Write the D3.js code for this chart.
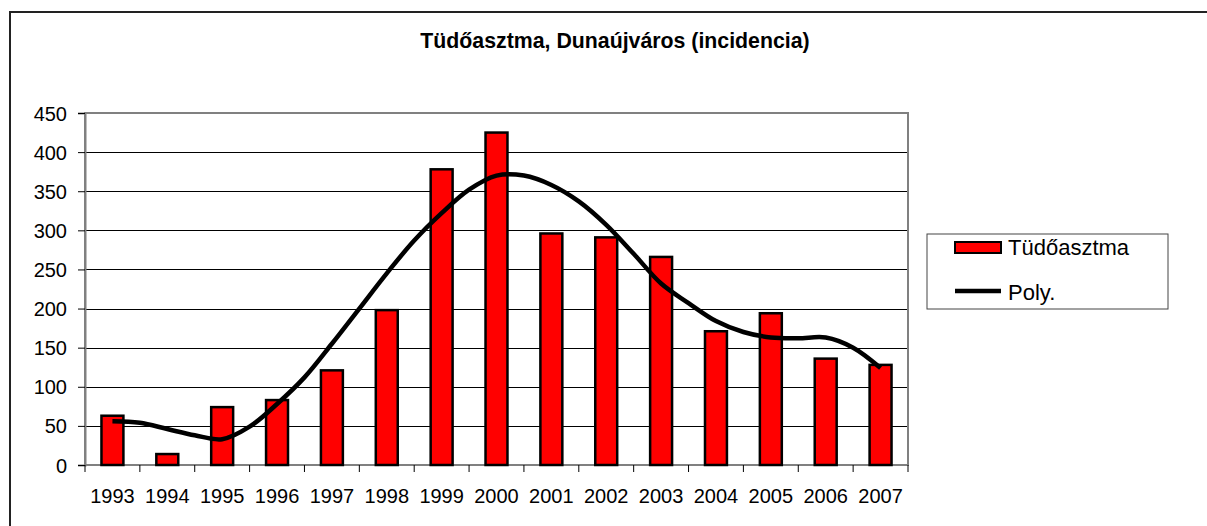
<!DOCTYPE html>
<html>
<head>
<meta charset="utf-8">
<script src="https://cdn.jsdelivr.net/npm/d3@7"></script>
<style>
  body { margin: 0; background: #fff; }
  text { font-family: Arial, "Liberation Sans", sans-serif; fill: #000; }
</style>
</head>
<body>
<svg id="chart" width="1207" height="526"></svg>
<script>
// bar data
const years = [1993, 1994, 1995, 1996, 1997, 1998, 1999, 2000, 2001, 2002, 2003, 2004, 2005, 2006, 2007];
const asthma = [63, 14, 74, 83, 121, 198, 378, 425, 296, 291, 266, 171, 194, 136, 128];

// trend line ("Poly.") at half-year steps
const polyYears = [1993, 1993.5, 1994, 1994.5, 1995, 1995.5, 1996, 1996.5, 1997, 1997.5, 1998, 1998.5, 1999, 1999.5,
    2000, 2000.5, 2001, 2001.5, 2002, 2002.5, 2003, 2003.5, 2004, 2004.5, 2005, 2005.5, 2006, 2006.5, 2007];
const polyValues = [56, 54, 46, 38, 33, 49, 78, 112, 155, 200, 245, 287, 322, 352,
    370, 370, 358, 337, 307, 270, 232, 207, 184, 170, 163, 162, 163, 150, 124];

const yTicks = [0, 50, 100, 150, 200, 250, 300, 350, 400, 450];

const title = "Tüdőasztma, Dunaújváros (incidencia)";
const legendItems = ["Tüdőasztma", "Poly."];

const svg = d3.select("#chart");
const margin = { top: 113, right: 299, bottom: 61, left: 85 };
const width = 1207, height = 526;

const x = d3.scaleBand()
    .domain(years)
    .range([margin.left, width - margin.right])
    .paddingInner(0.6)
    .paddingOuter(0.3);

const y = d3.scaleLinear()
    .domain([0, 450])
    .range([height - margin.bottom, margin.top]);

const xLin = d3.scaleLinear()
    .domain([years[0], years[years.length - 1]])
    .range([x(years[0]) + x.bandwidth() / 2, x(years[years.length - 1]) + x.bandwidth() / 2]);

// outer chart frame (only top and left visible)
svg.append("path")
    .attr("d", "M10,526 V12 H1207")
    .attr("fill", "none")
    .attr("stroke", "#222")
    .attr("stroke-width", 2);

// title
svg.append("text")
    .attr("x", 615)
    .attr("y", 48)
    .attr("text-anchor", "middle")
    .attr("font-size", 21.3)
    .attr("font-weight", "bold")
    .text(title);

// gridlines
svg.append("g")
    .selectAll("line")
    .data(yTicks.filter(d => d > 0 && d < 450))
    .enter().append("line")
    .attr("x1", margin.left)
    .attr("x2", width - margin.right)
    .attr("y1", d => Math.round(y(d)) + 0.5)
    .attr("y2", d => Math.round(y(d)) + 0.5)
    .attr("stroke", "#000")
    .attr("stroke-width", 1);

// plot area frame
svg.append("rect")
    .attr("x", margin.left)
    .attr("y", margin.top)
    .attr("width", width - margin.right - margin.left)
    .attr("height", y(0) - margin.top)
    .attr("fill", "none")
    .attr("stroke", "#808080")
    .attr("stroke-width", 2);

// y axis
const yAxis = svg.append("g")
    .attr("transform", `translate(${margin.left},0)`)
    .call(d3.axisLeft(y).tickValues(yTicks).tickSize(7).tickPadding(11));
yAxis.select(".domain").attr("stroke", "#808080").attr("stroke-width", 2);
yAxis.selectAll(".tick line").attr("stroke", "#000");
yAxis.selectAll(".tick text")
    .attr("font-size", 20)
    .attr("font-family", "Arial, 'Liberation Sans', sans-serif")
    .attr("dy", "0.35em");

// x axis: ticks on band boundaries
const xAxis = svg.append("g")
    .attr("transform", `translate(0,${y(0)})`);
xAxis.append("line")
    .attr("x1", margin.left).attr("x2", width - margin.right)
    .attr("stroke", "#808080").attr("stroke-width", 2);
const step = x.step();
const bounds = d3.range(years.length + 1).map(i => margin.left + i * step);
xAxis.selectAll(".xtick")
    .data(bounds)
    .enter().append("line")
    .attr("class", "xtick")
    .attr("x1", d => d).attr("x2", d => d)
    .attr("y1", 0).attr("y2", 7)
    .attr("stroke", "#000");
xAxis.selectAll(".xlab")
    .data(years)
    .enter().append("text")
    .attr("class", "xlab")
    .attr("x", d => x(d) + x.bandwidth() / 2)
    .attr("y", 38)
    .attr("text-anchor", "middle")
    .attr("font-size", 20)
    .text(d => d);

// bars
svg.append("g")
    .selectAll("rect")
    .data(asthma)
    .enter().append("rect")
    .attr("x", (d, i) => x(years[i]))
    .attr("y", d => y(d))
    .attr("width", x.bandwidth())
    .attr("height", d => y(0) - y(d))
    .attr("fill", "#ff0000")
    .attr("stroke", "#000")
    .attr("stroke-width", 2.5);

// trend line
svg.append("path")
    .datum(polyValues)
    .attr("fill", "none")
    .attr("stroke", "#000")
    .attr("stroke-width", 4.5)
    .attr("d", d3.line()
        .x((d, i) => xLin(polyYears[i]))
        .y(d => y(d))
        .curve(d3.curveCatmullRom));

// legend
const legend = svg.append("g").attr("transform", "translate(927,234)");
legend.append("rect")
    .attr("width", 241)
    .attr("height", 75)
    .attr("fill", "#fff")
    .attr("stroke", "#444")
    .attr("stroke-width", 1);
legend.append("rect")
    .attr("x", 28).attr("y", 8)
    .attr("width", 46).attr("height", 11)
    .attr("fill", "#ff0000")
    .attr("stroke", "#000")
    .attr("stroke-width", 2);
legend.append("line")
    .attr("x1", 28).attr("x2", 74)
    .attr("y1", 57).attr("y2", 57)
    .attr("stroke", "#000")
    .attr("stroke-width", 4.5);
legend.selectAll(".ltext")
    .data(legendItems)
    .enter().append("text")
    .attr("class", "ltext")
    .attr("x", 81)
    .attr("y", (d, i) => 21 + i * 45)
    .attr("font-size", 22)
    .text(d => d);
</script>
</body>
</html>
